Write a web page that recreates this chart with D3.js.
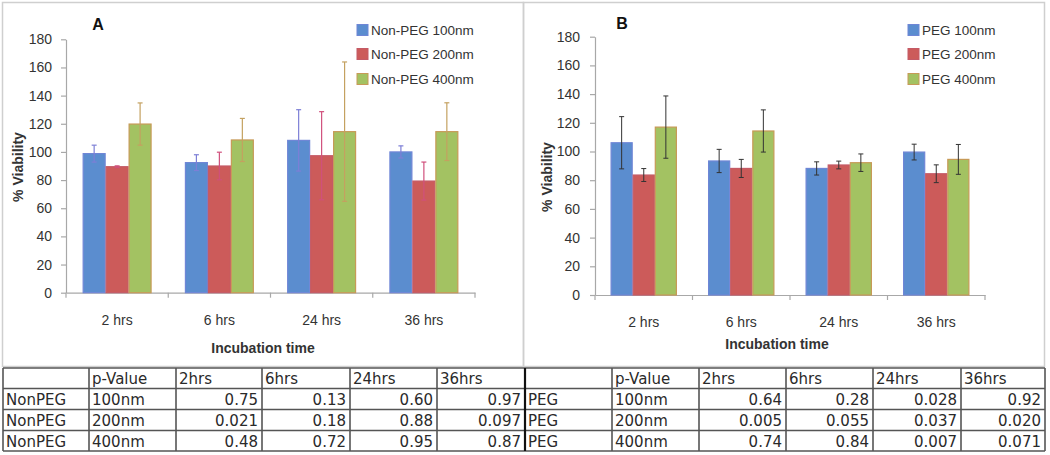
<!DOCTYPE html>
<html><head><meta charset="utf-8">
<script src="https://cdn.jsdelivr.net/npm/d3@7"></script>
<style>
html,body{margin:0;padding:0;background:#fff;}
svg{display:block;}
</style></head>
<body>
<svg id="chart" width="1050" height="455"></svg>
<script>
// ---------- data ----------
const categories = ["2 hrs", "6 hrs", "24 hrs", "36 hrs"];
const yTicks = [0, 20, 40, 60, 80, 100, 120, 140, 160, 180];

const seriesNamesA = ["Non-PEG 100nm", "Non-PEG 200nm", "Non-PEG 400nm"];
const nonPeg100 = [98.8, 92.4, 108.2, 100.0];
const nonPeg100Err = [6.0, 5.6, 21.8, 4.3];
const nonPeg200 = [89.5, 90.0, 97.3, 79.3];
const nonPeg200Err = [0.6, 9.8, 31.3, 13.5];
const nonPeg400 = [119.8, 108.5, 114.4, 114.4];
const nonPeg400Err = [15.0, 15.3, 49.5, 20.5];

const seriesNamesB = ["PEG 100nm", "PEG 200nm", "PEG 400nm"];
const peg100 = [106.1, 93.4, 88.2, 99.6];
const peg100Err = [18.2, 8.1, 4.6, 5.5];
const peg200 = [83.6, 88.2, 90.6, 84.5];
const peg200Err = [4.5, 6.3, 2.7, 6.2];
const peg400 = [117.0, 114.3, 92.2, 94.5];
const peg400Err = [21.7, 14.7, 6.1, 10.4];

const tableHeader = ["", "p-Value", "2hrs", "6hrs", "24hrs", "36hrs"];
const sizeLabels = ["100nm", "200nm", "400nm"];
const pNonPeg100 = ["0.75", "0.13", "0.60", "0.97"];
const pNonPeg200 = ["0.021", "0.18", "0.88", "0.097"];
const pNonPeg400 = ["0.48", "0.72", "0.95", "0.87"];
const pPeg100 = ["0.64", "0.28", "0.028", "0.92"];
const pPeg200 = ["0.005", "0.055", "0.037", "0.020"];
const pPeg400 = ["0.74", "0.84", "0.007", "0.071"];

// ---------- styles ----------
const fills = ["#5b8dcf", "#cc5b5a", "#a3c262"];
const strokes = ["#6f86d6", "#c45a66", "#c79a57"];
const errColorsA = ["#7d7fd6", "#d0507c", "#c4a160"];
const FONT = "'Liberation Sans', Arial, sans-serif";
const TFONT = "'DejaVu Sans', Verdana, sans-serif";

const svg = d3.select("#chart");

// panel borders
svg.append("rect").attr("x", 2.5).attr("y", 2.5).attr("width", 521).attr("height", 364)
  .attr("fill", "none").attr("stroke", "#cfcfcf").attr("stroke-width", 1.5);
svg.append("rect").attr("x", 523.5).attr("y", 2.5).attr("width", 521).attr("height", 364)
  .attr("fill", "none").attr("stroke", "#cfcfcf").attr("stroke-width", 1.5);

function panel(cfg) {
  const g = svg.append("g");
  const x = d3.scaleBand().domain(categories).range([cfg.x0, cfg.x1]);
  const y = d3.scaleLinear().domain([0, 180]).range([cfg.yBottom, cfg.yTop]);
  const bw = x.bandwidth();
  const x1 = d3.scaleBand().domain([0, 1, 2]).range([bw * cfg.gIn, bw * (1 - cfg.gIn)]);

  // y axis
  const ya = g.append("g").attr("transform", `translate(${cfg.x0},0)`)
    .call(d3.axisLeft(y).tickValues(yTicks).tickSize(5).tickSizeOuter(0).tickPadding(cfg.yPad));
  ya.select(".domain").attr("stroke", "#a8a8a8").attr("stroke-width", 1.2);
  ya.selectAll(".tick line").attr("stroke", "#a8a8a8").attr("stroke-width", 1.2);
  ya.selectAll(".tick text").attr("font-family", FONT).attr("font-size", 14).attr("fill", "#333");

  // x axis
  const xa = g.append("g").attr("transform", `translate(0,${cfg.yBottom})`)
    .call(d3.axisBottom(x).tickSize(0).tickSizeOuter(0).tickPadding(cfg.xPad));
  xa.select(".domain").attr("stroke", "#a8a8a8").attr("stroke-width", 1.2);
  xa.selectAll(".tick text").attr("font-family", FONT).attr("font-size", 14).attr("fill", "#333");
  const bounds = categories.map(c => x(c)).concat([x(categories[categories.length - 1]) + bw]);
  xa.selectAll("line.bnd").data(bounds).enter().append("line").attr("class", "bnd")
    .attr("x1", d => d).attr("x2", d => d).attr("y1", 0).attr("y2", 5)
    .attr("stroke", "#a8a8a8").attr("stroke-width", 1.2);

  // bars
  cfg.series.forEach((vals, si) => {
    const errs = cfg.errs[si];
    const sg = g.append("g");
    sg.selectAll("rect").data(vals).enter().append("rect")
      .attr("x", (d, i) => x(categories[i]) + x1(si) + 0.5)
      .attr("y", d => y(d))
      .attr("width", x1.bandwidth() - 1)
      .attr("height", d => y(0) - y(d))
      .attr("fill", fills[si]).attr("stroke", strokes[si]).attr("stroke-width", 1.2);
    const ec = cfg.errColors[si];
    const eg = g.append("g").attr("stroke", ec).attr("stroke-width", cfg.errW);
    vals.forEach((d, i) => {
      const cx = x(categories[i]) + x1(si) + x1.bandwidth() / 2;
      eg.append("line").attr("x1", cx).attr("x2", cx).attr("y1", y(d + errs[i])).attr("y2", y(d - errs[i]));
      eg.append("line").attr("x1", cx - 2.5).attr("x2", cx + 2.5).attr("y1", y(d + errs[i])).attr("y2", y(d + errs[i]));
      eg.append("line").attr("x1", cx - 2.5).attr("x2", cx + 2.5).attr("y1", y(d - errs[i])).attr("y2", y(d - errs[i]));
    });
  });

  // labels
  g.append("text").attr("x", cfg.title[0]).attr("y", cfg.title[1]).attr("text-anchor", "middle")
    .attr("font-family", FONT).attr("font-weight", "bold").attr("font-size", 16).attr("fill", "#111")
    .text(cfg.titleText);
  g.append("text").attr("transform", `translate(${cfg.ylab[0]},${cfg.ylab[1]}) rotate(-90)`)
    .attr("text-anchor", "middle").attr("dominant-baseline", "central")
    .attr("font-family", FONT).attr("font-weight", "bold").attr("font-size", 14).attr("fill", "#333")
    .text("% Viability");
  g.append("text").attr("x", cfg.xlab[0]).attr("y", cfg.xlab[1]).attr("text-anchor", "middle")
    .attr("dominant-baseline", "central")
    .attr("font-family", FONT).attr("font-weight", "bold").attr("font-size", 14).attr("fill", "#333")
    .text("Incubation time");

  // legend
  const lg = g.append("g");
  cfg.names.forEach((n, i) => {
    const cy = cfg.legY[i];
    lg.append("rect").attr("x", cfg.legX).attr("y", cy - 5.5).attr("width", 11).attr("height", 11)
      .attr("fill", fills[i]).attr("stroke", strokes[i]).attr("stroke-width", 1);
    lg.append("text").attr("x", cfg.legX + 14).attr("y", cy).attr("dominant-baseline", "central")
      .attr("font-family", FONT).attr("font-size", 13.5).attr("fill", "#333").text(n);
  });
}

panel({
  x0: 66, x1: 475, yBottom: 292.7, yTop: 39.3, gIn: 0.163, yPad: 9, xPad: 22,
  series: [nonPeg100, nonPeg200, nonPeg400], errs: [nonPeg100Err, nonPeg200Err, nonPeg400Err],
  errColors: errColorsA, errW: 1.2, names: seriesNamesA,
  title: [98, 30], titleText: "A", ylab: [18, 167], xlab: [263, 348],
  legX: 357, legY: [30, 54, 79]
});
panel({
  x0: 595, x1: 985, yBottom: 295, yTop: 36.7, gIn: 0.16, yPad: 10, xPad: 22,
  series: [peg100, peg200, peg400], errs: [peg100Err, peg200Err, peg400Err],
  errColors: ["#333", "#333", "#333"], errW: 1, names: seriesNamesB,
  title: [622, 29], titleText: "B", ylab: [547, 177], xlab: [777, 344],
  legX: 908, legY: [30, 54, 79]
});

// ---------- tables ----------
function table(cols, group, rows) {
  const rowY = [368, 388.5, 409.5, 430.5, 451];
  const tg = svg.append("g");
  const allRows = [tableHeader].concat(rows.map((r, i) => [group, sizeLabels[i]].concat(r)));
  allRows.forEach((r, ri) => {
    r.forEach((t, ci) => {
      const num = ri > 0 && ci >= 2;
      tg.append("text")
        .attr("x", num ? cols[ci + 1] - 4 : cols[ci] + 3)
        .attr("y", (rowY[ri] + rowY[ri + 1]) / 2 + 1)
        .attr("text-anchor", num ? "end" : "start")
        .attr("dominant-baseline", "central")
        .attr("font-family", TFONT).attr("font-size", 15).attr("fill", "#2a2a2a")
        .text(t);
    });
  });
  // lines
  rowY.forEach(yy => tg.append("line").attr("x1", cols[0]).attr("x2", cols[cols.length - 1])
    .attr("y1", yy).attr("y2", yy).attr("stroke", "#555").attr("stroke-width", 1.6));
  cols.forEach(xx => tg.append("line").attr("x1", xx).attr("x2", xx)
    .attr("y1", rowY[0]).attr("y2", rowY[rowY.length - 1]).attr("stroke", "#555").attr("stroke-width", 1.6));
}
table([3, 89, 176, 262, 350, 437, 525], "NonPEG", [pNonPeg100, pNonPeg200, pNonPeg400]);
table([525, 612, 699, 786, 873, 961, 1045], "PEG", [pPeg100, pPeg200, pPeg400]);
svg.append("line").attr("x1", 525).attr("x2", 525).attr("y1", 368).attr("y2", 451)
  .attr("stroke", "#111").attr("stroke-width", 2.2);
</script>
</body></html>
